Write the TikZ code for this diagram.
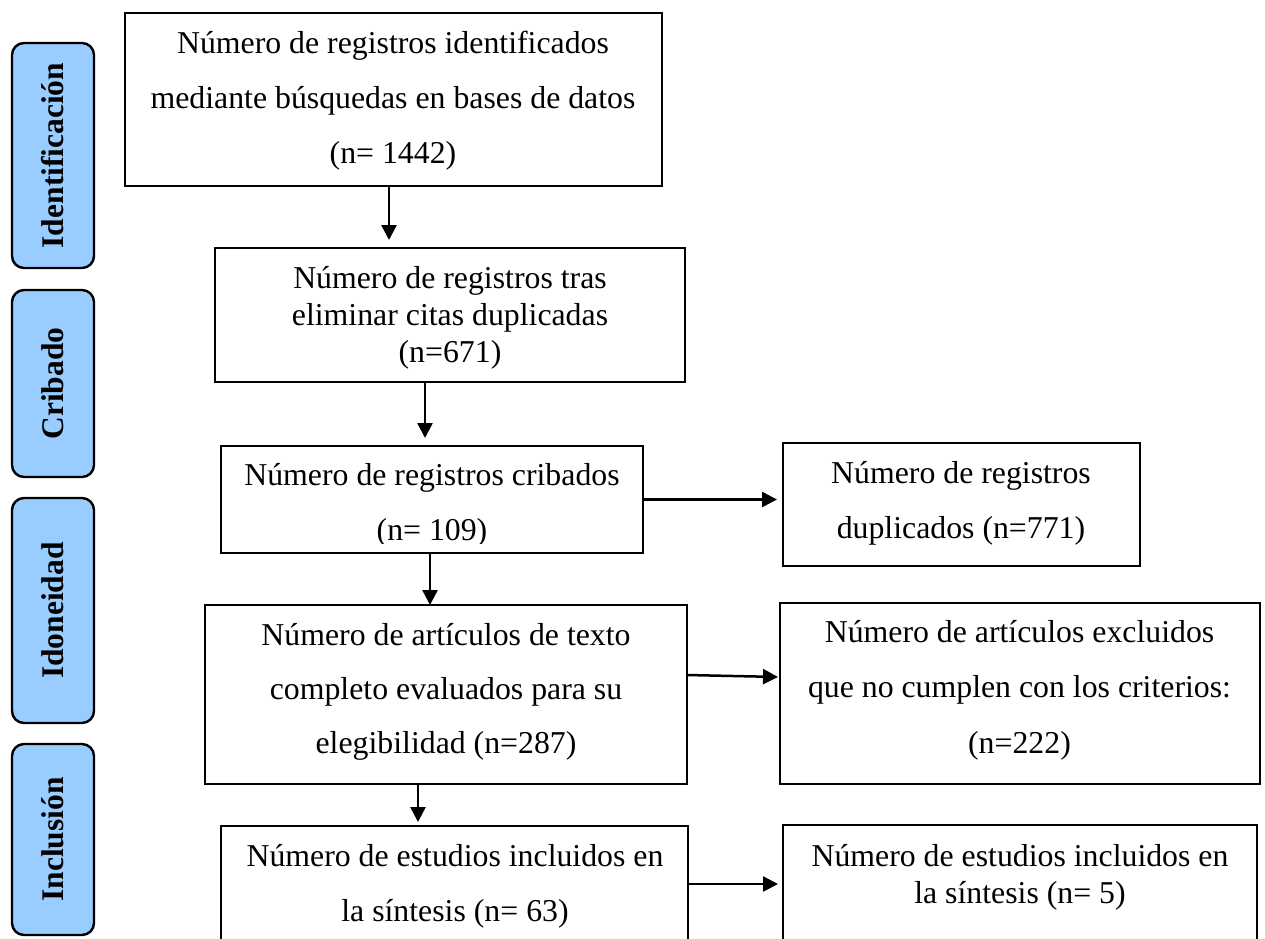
\documentclass[tikz,border=0pt]{standalone}
\usepackage{fontspec}
\setmainfont{Liberation Serif}
\usetikzlibrary{arrows.meta}
\definecolor{sideblue}{HTML}{99CCFF}
\newcommand\tlines[2]{\fontsize{31.8}{#1}\selectfont\begin{tabular}[t]{@{}c@{}}#2\end{tabular}}
\begin{document}
\begin{tikzpicture}[x=1pt,y=-1pt,
  box/.style={draw, line width=2.6pt, rectangle, inner sep=0pt, outer sep=0pt},
  txt/.style={inner sep=0pt, outer sep=0pt, anchor=base},
  side/.style={draw, line width=2.4pt, fill=sideblue, rounded corners=12pt, rotate=90,
    inner sep=0pt, outer sep=0pt, minimum height=82pt, font=\fontsize{31.5}{31.5}\selectfont\bfseries},
  arr/.style={line width=2.5pt, -{Triangle[length=15pt,width=15pt]}}]
\useasboundingbox (0,0) rectangle (1265,938);

% side labels
\node[side, minimum width=225pt] (s1) at (53,155.5) {Identificación};
\node[side, minimum width=187pt] (s2) at (53,383.5) {Cribado};
\node[side, minimum width=225pt] (s3) at (53,610.5) {Idoneidad};
\node[side, minimum width=191pt] (s4) at (53,839.5) {Inclusión};

% boxes
\node[box, minimum width=537pt, minimum height=173pt] (b1) at (393.5,99.5) {};
\node[box, minimum width=470pt, minimum height=134pt] (b2) at (450,315) {};
\node[box, minimum width=422pt, minimum height=107pt] (b3) at (432,499.5) {};
\node[box, minimum width=357pt, minimum height=123pt] (dup) at (961.5,504.5) {};
\node[box, minimum width=482pt, minimum height=179pt] (b4) at (446,694.5) {};
\node[box, minimum width=480pt, minimum height=181pt] (exc) at (1020,693.5) {};
\node[box, minimum width=467pt, minimum height=130pt] (b5) at (454.5,891) {};
\node[box, minimum width=474pt, minimum height=130pt] (b6) at (1020,890) {};

% texts
\node[txt] (t1) at (393,53) {\tlines{55}{Número de registros identificados\\mediante búsquedas en bases de datos\\(n= 1442)}};
\node[txt] (t2) at (450,288) {\tlines{37}{Número de registros tras\\eliminar citas duplicadas\\(n=671)}};
\node[txt] (t3) at (432,485) {\tlines{55}{Número de registros cribados\\(n= 109)}};
\fill[white] (360,543.5) rectangle (505,551.4);
\node[txt] (tdup) at (961,483) {\tlines{55}{Número de registros\\duplicados (n=771)}};
\node[txt] (t4) at (446,645) {\tlines{54}{Número de artículos de texto\\completo evaluados para su\\elegibilidad (n=287)}};
\node[txt] (texc) at (1019.5,642) {\tlines{55.5}{Número de artículos excluidos\\que no cumplen con los criterios:\\(n=222)}};
\node[txt] (t5) at (455,866) {\tlines{55}{Número de estudios incluidos en\\la síntesis (n= 63)}};
\node[txt] (t6) at (1020,866) {\tlines{37}{Número de estudios incluidos en\\la síntesis (n= 5)}};

% connectors
\draw[arr, shorten >=8pt] ([xshift=-4.5pt]b1.south) -- ([xshift=-4.5pt]b1.south |- b2.north);
\draw[arr, shorten >=8pt] ([xshift=-25pt]b2.south) -- ([xshift=-25pt]b2.south |- b3.north);
\draw[arr] ([xshift=-2pt]b3.south) -- ([xshift=-2pt]b3.south |- b4.north);
\draw[arr, shorten >=4pt] ([xshift=-28pt]b4.south) -- ([xshift=-28pt]b4.south |- b5.north);
\draw[arr, shorten >=6pt] (b3.east) -- (b3.east -| dup.west);
\draw[arr, shorten >=2pt] ([yshift=19.5pt]b4.east) -- ([yshift=16.5pt]exc.west);
\draw[arr, shorten >=5pt] ([yshift=7pt]b5.east) -- ([yshift=7pt]b5.east -| b6.west);
\end{tikzpicture}
\end{document}
